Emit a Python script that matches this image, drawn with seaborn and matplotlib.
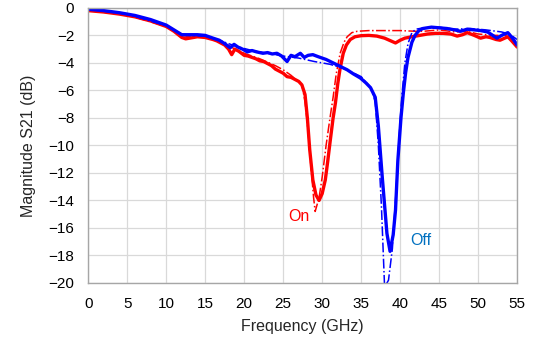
import matplotlib
matplotlib.use("Agg")
import matplotlib.pyplot as plt
import seaborn as sns

# measured "On" state
on_meas_f = [0, 2, 4, 6, 8, 10, 11, 12, 12.5, 13, 14, 15, 16, 16.5, 17, 17.5, 18, 18.4, 18.8,
             19.3, 20, 20.5, 21, 21.5, 22, 22.5, 23, 23.5, 24, 24.5, 25, 25.5, 26, 26.5, 27,
             27.4, 27.8, 28.1, 28.4, 28.8, 29.2, 29.6, 30.0, 30.4, 30.7, 31.0, 31.4, 31.7,
             32.0, 32.3, 32.7, 33.1, 33.6, 34.2, 35, 36, 37, 38, 38.8, 39.4, 40, 40.6, 41.5,
             42.5, 43.5, 44.5, 45.5, 46.5, 47.3, 48, 48.6, 49.5, 50.3, 51, 51.5, 52.3, 52.8,
             53.4, 53.8, 54.3, 55]
on_meas_db = [-0.2, -0.3, -0.45, -0.65, -0.95, -1.35, -1.7, -2.15, -2.25, -2.2, -2.1, -2.15,
              -2.3, -2.4, -2.55, -2.7, -3.0, -3.4, -3.0, -3.15, -3.45, -3.5, -3.6, -3.7, -3.85,
              -3.9, -4.05, -4.2, -4.45, -4.6, -4.75, -5.0, -5.05, -5.2, -5.35, -5.6, -6.3,
              -8.0, -10.3, -12.5, -13.6, -14.0, -13.5, -12.5, -11.2, -9.8, -8.0, -6.9, -5.5,
              -4.4, -3.3, -2.7, -2.3, -2.1, -2.02, -2.0, -2.05, -2.2, -2.4, -2.55, -2.35,
              -2.2, -2.1, -2.0, -1.9, -1.85, -1.85, -1.9, -2.05, -1.95, -1.8, -2.0, -2.2,
              -2.1, -2.15, -2.3, -2.35, -2.2, -2.1, -2.4, -2.85]

# simulated "On" state
on_sim_f = [0, 5, 10, 12, 13, 15, 17, 18.5, 20, 22, 24, 25, 26, 26.8, 27.4, 27.8, 28.2, 28.6,
            28.9, 29.1, 29.6, 30.0, 30.5, 31.0, 31.4, 31.8, 32.3, 32.8, 33.2, 33.8, 34.5, 36,
            38, 40, 42, 43, 45, 47, 48.5, 50, 52, 53.5, 55]
on_sim_db = [-0.2, -0.5, -1.35, -2.0, -2.1, -2.1, -2.4, -2.9, -3.3, -3.7, -4.2, -4.5, -4.9,
             -5.3, -5.6, -6.8, -9.0, -11.8, -13.8, -14.8, -13.8, -12.3, -10.0, -8.0, -6.5,
             -4.8, -3.3, -2.5, -2.1, -1.8, -1.7, -1.65, -1.65, -1.65, -1.7, -1.7, -1.6,
             -1.75, -1.7, -1.9, -2.0, -2.0, -2.6]

# measured "Off" state
off_meas_f = [0, 2, 4, 6, 8, 10, 11, 12, 13, 14, 15, 16, 16.8, 17.5, 18.2, 18.7, 19.2, 19.8,
              20.4, 21, 21.6, 22.4, 23, 23.6, 24.2, 24.8, 25.5, 26, 26.5, 27.2, 27.7, 28.2,
              28.8, 29.5, 30.5, 31.4, 32.3, 33.2, 34, 34.9, 35.6, 36.2, 36.8, 37.2, 37.7,
              38.3, 38.7, 39.1, 39.4, 39.7, 40.1, 40.4, 40.7, 41.0, 41.5, 41.9, 42.4, 42.9,
              44, 45, 46, 47, 47.7, 48.6, 49.5, 50.3, 51.2, 52.4, 53, 53.8, 54.4, 55]
off_meas_db = [-0.1, -0.2, -0.35, -0.55, -0.85, -1.25, -1.6, -1.95, -1.95, -1.95, -2.0, -2.2,
               -2.35, -2.6, -2.9, -2.65, -2.85, -3.0, -3.2, -3.1, -3.2, -3.3, -3.25, -3.35,
               -3.3, -3.5, -3.9, -3.45, -3.55, -3.3, -3.6, -3.45, -3.4, -3.55, -3.75, -4.0,
               -4.25, -4.5, -4.8, -5.1, -5.45, -5.8, -6.5, -8.6, -12.3, -16.4, -17.7, -16.5,
               -14.7, -11.1, -8.0, -6.2, -4.7, -3.6, -2.5, -2.0, -1.65, -1.5, -1.4, -1.45,
               -1.5, -1.6, -1.7, -1.55, -1.6, -1.65, -1.75, -2.2, -2.0, -1.8, -2.2, -2.7]

# simulated "Off" state
off_sim_f = [0, 5, 10, 12, 13, 15, 17, 19, 21, 23, 25, 27, 29, 31, 33, 35, 36.2, 36.8, 37.2,
             37.6, 38.0, 38.5, 39.0, 39.4, 39.8, 40.2, 40.6, 41.0, 41.5, 42, 43, 45, 47, 49,
             51, 53, 54, 55]
off_sim_db = [-0.1, -0.45, -1.3, -1.9, -2.0, -2.05, -2.4, -2.8, -3.1, -3.3, -3.5, -3.65, -3.9,
              -4.1, -4.45, -5.0, -5.8, -6.8, -10.0, -14.5, -20.3, -19.8, -17.5, -14.0, -10.0,
              -6.5, -4.0, -2.6, -1.8, -1.55, -1.45, -1.4, -1.55, -1.5, -1.6, -1.75, -1.9, -2.3]

x_ticks = list(range(0, 56, 5))
y_ticks = list(range(-20, 1, 2))

sns.set_style("white")
plt.rcParams['font.family'] = ['Liberation Sans', 'DejaVu Sans']

fig = plt.figure(figsize=(5.41, 3.43), dpi=100)
ax = fig.add_axes([0.163, 0.175, 0.793, 0.802])

red = '#FF0000'
blue = '#0000FF'
sns.lineplot(x=on_meas_f, y=on_meas_db, color=red, lw=2.4, estimator=None, sort=False, ax=ax)
sns.lineplot(x=on_sim_f, y=on_sim_db, color=red, lw=1.1, ls='-.', estimator=None, sort=False, ax=ax)
sns.lineplot(x=off_meas_f, y=off_meas_db, color=blue, lw=2.4, estimator=None, sort=False, ax=ax)
sns.lineplot(x=off_sim_f, y=off_sim_db, color=blue, lw=1.1, ls='-.', estimator=None, sort=False, ax=ax)

ax.set_xlim(0, 55)
ax.set_ylim(-20, 0)
ax.set_xticks(x_ticks)
ax.set_yticks(y_ticks)
ax.grid(True, color='#D9D9D9', lw=0.9)
ax.set_axisbelow(True)
for s in ax.spines.values():
    s.set_color('#A6A6A6')
    s.set_linewidth(1.0)
ax.tick_params(length=0, pad=10, labelsize=11, colors='#000000')

ax.set_xlabel('Frequency (GHz)', fontsize=11.5, labelpad=6)
ax.set_ylabel('Magnitude S21 (dB)', fontsize=11.5, labelpad=9)

ax.text(27.0, -15.2, 'On', color=red, fontsize=11.5, ha='center', va='center')
ax.text(42.6, -16.9, 'Off', color='#0070C0', fontsize=11.5, ha='center', va='center')

fig.savefig('out.png', dpi=100)
